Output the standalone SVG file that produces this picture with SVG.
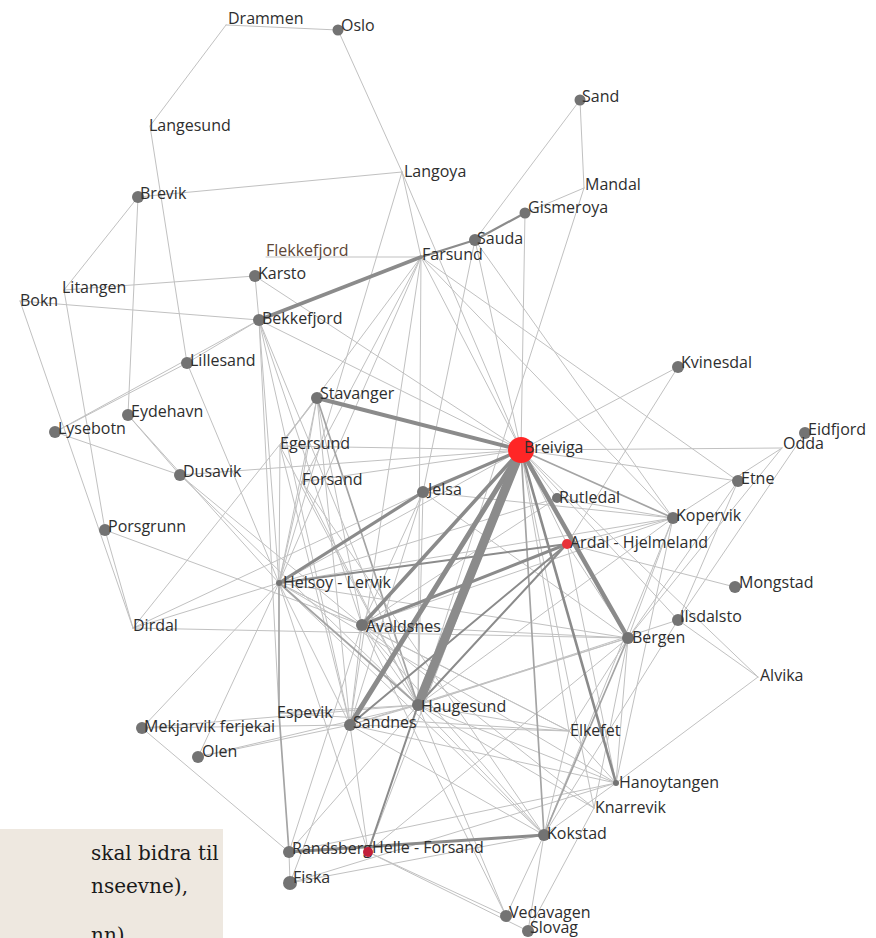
<svg xmlns="http://www.w3.org/2000/svg" width="876" height="938" viewBox="0 0 876 938">
<style>
.e line{stroke:#c1c1c1;stroke-width:1;stroke-linecap:round}
.e line.m{stroke:#a4a4a4;stroke-width:1.7}
.e line.k{stroke:#8b8b8b}
.n{fill:#737373}
.lb{font-family:"Open Sans","DejaVu Sans",sans-serif;font-size:16px;fill:#2e2e2e}
.box{fill:#eee8e0}
.bt{font-family:"DejaVu Serif","Liberation Serif",serif;font-size:20px;fill:#1a1a1a}
</style>
<rect width="876" height="938" fill="#ffffff"/>
<g id="connectors" class="e">
<line x1="226" y1="25" x2="338" y2="30"/>
<line x1="226" y1="25" x2="150" y2="126"/>
<line x1="338" y1="30" x2="402" y2="172"/>
<line x1="150" y1="126" x2="187" y2="363"/>
<line x1="402" y1="172" x2="138" y2="197"/>
<line x1="138" y1="197" x2="64" y2="290"/>
<line x1="138" y1="197" x2="128" y2="415"/>
<line x1="402" y1="172" x2="421" y2="257"/>
<line x1="402" y1="172" x2="279" y2="583"/>
<line x1="402" y1="172" x2="521" y2="450"/>
<line x1="266" y1="257" x2="421" y2="257"/>
<line x1="255" y1="276" x2="64" y2="290"/>
<line x1="255" y1="276" x2="259" y2="320"/>
<line x1="255" y1="276" x2="521" y2="450"/>
<line x1="20" y1="301" x2="259" y2="320"/>
<line x1="20" y1="301" x2="133" y2="628"/>
<line x1="64" y1="290" x2="105" y2="530"/>
<line x1="259" y1="320" x2="521" y2="450"/>
<line x1="259" y1="320" x2="187" y2="363"/>
<line x1="259" y1="320" x2="55" y2="432"/>
<line x1="259" y1="320" x2="279" y2="583"/>
<line x1="259" y1="320" x2="362" y2="625"/>
<line x1="259" y1="320" x2="418" y2="705"/>
<line x1="259" y1="320" x2="350" y2="725"/>
<line x1="259" y1="320" x2="279" y2="713"/>
<line x1="580" y1="100" x2="475" y2="240"/>
<line x1="580" y1="100" x2="584" y2="188"/>
<line x1="584" y1="188" x2="525" y2="213"/>
<line x1="584" y1="188" x2="418" y2="705"/>
<line x1="525" y1="213" x2="521" y2="450"/>
<line x1="475" y1="240" x2="423" y2="492"/>
<line x1="475" y1="240" x2="521" y2="450"/>
<line x1="475" y1="240" x2="673" y2="518"/>
<line x1="421" y1="257" x2="521" y2="450"/>
<line x1="421" y1="257" x2="280" y2="446"/>
<line x1="421" y1="257" x2="302" y2="482"/>
<line x1="421" y1="257" x2="279" y2="583"/>
<line x1="421" y1="257" x2="350" y2="725"/>
<line x1="421" y1="257" x2="418" y2="705"/>
<line x1="421" y1="257" x2="673" y2="518"/>
<line x1="421" y1="257" x2="738" y2="481"/>
<line x1="187" y1="363" x2="55" y2="432"/>
<line x1="187" y1="363" x2="279" y2="583"/>
<line x1="55" y1="432" x2="180" y2="475"/>
<line x1="128" y1="415" x2="180" y2="475"/>
<line x1="128" y1="415" x2="279" y2="583"/>
<line x1="180" y1="475" x2="521" y2="450"/>
<line x1="180" y1="475" x2="362" y2="625"/>
<line x1="180" y1="475" x2="418" y2="705"/>
<line x1="105" y1="530" x2="362" y2="625"/>
<line x1="105" y1="530" x2="133" y2="628"/>
<line x1="317" y1="398" x2="280" y2="446"/>
<line x1="317" y1="398" x2="302" y2="482"/>
<line x1="317" y1="398" x2="279" y2="583"/>
<line x1="317" y1="398" x2="133" y2="628"/>
<line x1="317" y1="398" x2="362" y2="625"/>
<line x1="317" y1="398" x2="350" y2="725"/>
<line class="m" x1="317" y1="398" x2="418" y2="705"/>
<line x1="280" y1="446" x2="279" y2="583"/>
<line x1="280" y1="446" x2="521" y2="450"/>
<line x1="280" y1="446" x2="418" y2="705"/>
<line x1="280" y1="446" x2="350" y2="725"/>
<line x1="302" y1="482" x2="521" y2="450"/>
<line x1="302" y1="482" x2="418" y2="705"/>
<line x1="302" y1="482" x2="544" y2="835"/>
<line x1="302" y1="482" x2="279" y2="583"/>
<line x1="423" y1="492" x2="418" y2="705"/>
<line x1="423" y1="492" x2="350" y2="725"/>
<line x1="423" y1="492" x2="362" y2="625"/>
<line x1="423" y1="492" x2="673" y2="518"/>
<line x1="423" y1="492" x2="133" y2="628"/>
<line x1="423" y1="492" x2="628" y2="638"/>
<line x1="678" y1="367" x2="521" y2="450"/>
<line x1="678" y1="367" x2="567" y2="544"/>
<line x1="782" y1="448" x2="521" y2="450"/>
<line x1="782" y1="448" x2="673" y2="518"/>
<line x1="782" y1="448" x2="628" y2="638"/>
<line x1="805" y1="433" x2="678" y2="620"/>
<line x1="738" y1="481" x2="521" y2="450"/>
<line x1="738" y1="481" x2="628" y2="638"/>
<line x1="738" y1="481" x2="678" y2="620"/>
<line x1="557" y1="498" x2="521" y2="450"/>
<line x1="557" y1="498" x2="673" y2="518"/>
<line x1="557" y1="498" x2="362" y2="625"/>
<line x1="557" y1="498" x2="279" y2="583"/>
<line class="m" x1="673" y1="518" x2="521" y2="450"/>
<line x1="673" y1="518" x2="567" y2="544"/>
<line x1="673" y1="518" x2="279" y2="583"/>
<line x1="673" y1="518" x2="362" y2="625"/>
<line x1="673" y1="518" x2="628" y2="638"/>
<line x1="673" y1="518" x2="544" y2="835"/>
<line x1="673" y1="518" x2="616" y2="783"/>
<line x1="673" y1="518" x2="418" y2="705"/>
<line x1="567" y1="544" x2="735" y2="587"/>
<line x1="567" y1="544" x2="628" y2="638"/>
<line x1="567" y1="544" x2="616" y2="783"/>
<line x1="521" y1="450" x2="758" y2="677"/>
<line x1="678" y1="620" x2="758" y2="677"/>
<line x1="678" y1="620" x2="544" y2="835"/>
<line x1="678" y1="620" x2="418" y2="705"/>
<line x1="678" y1="620" x2="521" y2="450"/>
<line x1="758" y1="677" x2="616" y2="783"/>
<line x1="628" y1="638" x2="418" y2="705"/>
<line x1="628" y1="638" x2="362" y2="625"/>
<line x1="628" y1="638" x2="279" y2="583"/>
<line x1="628" y1="638" x2="350" y2="725"/>
<line x1="628" y1="638" x2="569" y2="731"/>
<line x1="628" y1="638" x2="594" y2="808"/>
<line x1="628" y1="638" x2="133" y2="628"/>
<line x1="628" y1="638" x2="368" y2="852"/>
<line x1="628" y1="638" x2="616" y2="783"/>
<line x1="521" y1="450" x2="567" y2="544"/>
<line x1="521" y1="450" x2="569" y2="731"/>
<line x1="521" y1="450" x2="594" y2="808"/>
<line x1="521" y1="450" x2="368" y2="852"/>
<line x1="521" y1="450" x2="279" y2="583"/>
<line x1="362" y1="625" x2="279" y2="583"/>
<line x1="362" y1="625" x2="418" y2="705"/>
<line x1="362" y1="625" x2="544" y2="835"/>
<line x1="362" y1="625" x2="569" y2="731"/>
<line x1="362" y1="625" x2="594" y2="808"/>
<line x1="362" y1="625" x2="289" y2="852"/>
<line x1="362" y1="625" x2="350" y2="725"/>
<line x1="362" y1="625" x2="506" y2="916"/>
<line x1="279" y1="583" x2="544" y2="835"/>
<line x1="279" y1="583" x2="569" y2="731"/>
<line x1="279" y1="583" x2="616" y2="783"/>
<line x1="279" y1="583" x2="368" y2="852"/>
<line x1="279" y1="583" x2="142" y2="728"/>
<line x1="279" y1="583" x2="198" y2="757"/>
<line x1="279" y1="583" x2="133" y2="628"/>
<line x1="279" y1="583" x2="350" y2="725"/>
<line x1="279" y1="713" x2="418" y2="705"/>
<line x1="279" y1="713" x2="569" y2="731"/>
<line x1="418" y1="705" x2="350" y2="725"/>
<line x1="418" y1="705" x2="544" y2="835"/>
<line x1="418" y1="705" x2="569" y2="731"/>
<line x1="418" y1="705" x2="616" y2="783"/>
<line x1="418" y1="705" x2="594" y2="808"/>
<line x1="418" y1="705" x2="506" y2="916"/>
<line x1="418" y1="705" x2="289" y2="852"/>
<line x1="418" y1="705" x2="198" y2="757"/>
<line x1="418" y1="705" x2="142" y2="728"/>
<line x1="350" y1="725" x2="368" y2="852"/>
<line x1="350" y1="725" x2="544" y2="835"/>
<line x1="350" y1="725" x2="142" y2="728"/>
<line x1="350" y1="725" x2="198" y2="757"/>
<line x1="350" y1="725" x2="616" y2="783"/>
<line x1="350" y1="725" x2="569" y2="731"/>
<line x1="350" y1="725" x2="290" y2="883"/>
<line x1="142" y1="728" x2="289" y2="852"/>
<line x1="289" y1="852" x2="290" y2="883"/>
<line x1="289" y1="852" x2="616" y2="783"/>
<line x1="290" y1="883" x2="544" y2="835"/>
<line x1="290" y1="883" x2="616" y2="783"/>
<line x1="368" y1="852" x2="506" y2="916"/>
<line x1="368" y1="852" x2="528" y2="931"/>
<line x1="544" y1="835" x2="506" y2="916"/>
<line x1="544" y1="835" x2="528" y2="931"/>
<line x1="544" y1="835" x2="569" y2="731"/>
<line x1="544" y1="835" x2="616" y2="783"/>
<line x1="594" y1="808" x2="528" y2="931"/>
<line x1="569" y1="731" x2="616" y2="783"/>
<line class="m" x1="279" y1="583" x2="279" y2="713"/>
<line class="m" x1="279" y1="713" x2="289" y2="852"/>
<line class="m" x1="521" y1="450" x2="544" y2="835"/>
<line class="m" x1="628" y1="638" x2="544" y2="835"/>
<line class="m" x1="279" y1="583" x2="418" y2="705"/>
<line class="k" style="stroke-width:2" x1="418" y1="705" x2="368" y2="852"/>
<line class="k" style="stroke-width:2" x1="567" y1="544" x2="418" y2="705"/>
<line class="k" style="stroke-width:2" x1="567" y1="544" x2="350" y2="725"/>
<line class="k" style="stroke-width:2" x1="279" y1="583" x2="567" y2="544"/>
<line class="k" style="stroke-width:2.2" x1="475" y1="240" x2="421" y2="257"/>
<line class="k" style="stroke-width:2.2" x1="475" y1="240" x2="525" y2="213"/>
<line class="k" style="stroke-width:2.6" x1="521" y1="450" x2="616" y2="783"/>
<line class="k" style="stroke-width:3" x1="289" y1="852" x2="544" y2="835"/>
<line class="k" style="stroke-width:3" x1="362" y1="625" x2="567" y2="544"/>
<line class="k" style="stroke-width:3.2" x1="423" y1="492" x2="279" y2="583"/>
<line class="k" style="stroke-width:3.2" x1="521" y1="450" x2="423" y2="492"/>
<line class="k" style="stroke-width:3.6" x1="421" y1="257" x2="259" y2="320"/>
<line class="k" style="stroke-width:3.6" x1="521" y1="450" x2="362" y2="625"/>
<line class="k" style="stroke-width:4" x1="521" y1="450" x2="317" y2="398"/>
<line class="k" style="stroke-width:4.5" x1="521" y1="450" x2="628" y2="638"/>
<line class="k" style="stroke-width:5" x1="521" y1="450" x2="350" y2="725"/>
<line class="k" style="stroke-width:9" x1="521" y1="450" x2="418" y2="705"/>
</g>
<g id="n-drammen"><text class="lb" x="228" y="24">Drammen</text></g>
<g id="n-oslo"><circle class="n" cx="338" cy="30" r="5.5"/><text class="lb" x="341" y="31">Oslo</text></g>
<g id="n-langesund"><text class="lb" x="149" y="131">Langesund</text></g>
<g id="n-langoya"><text class="lb" x="404" y="177">Langoya</text></g>
<g id="n-brevik"><circle class="n" cx="138" cy="197" r="6"/><text class="lb" x="140" y="199">Brevik</text></g>
<g id="n-sand"><circle class="n" cx="580" cy="100" r="5.5"/><text class="lb" x="582" y="102">Sand</text></g>
<g id="n-mandal"><text class="lb" x="585" y="190">Mandal</text></g>
<g id="n-gismeroya"><circle class="n" cx="525" cy="213" r="5.5"/><text class="lb" x="528" y="213">Gismeroya</text></g>
<g id="n-sauda"><circle class="n" cx="475" cy="240" r="6"/><text class="lb" x="477" y="244">Sauda</text></g>
<g id="n-farsund"><text class="lb" x="422" y="260">Farsund</text></g>
<g id="n-flekkefjord"><text class="lb" x="266" y="256" style="fill:#5e4636">Flekkefjord</text></g>
<g id="n-karsto"><circle class="n" cx="255" cy="276" r="6"/><text class="lb" x="258" y="279">Karsto</text></g>
<g id="n-litangen"><text class="lb" x="62" y="293">Litangen</text></g>
<g id="n-bokn"><text class="lb" x="20" y="306">Bokn</text></g>
<g id="n-bekkefjord"><circle class="n" cx="259" cy="320" r="6"/><text class="lb" x="262" y="324">Bekkefjord</text></g>
<g id="n-lillesand"><circle class="n" cx="187" cy="363" r="6"/><text class="lb" x="190" y="366">Lillesand</text></g>
<g id="n-stavanger"><circle class="n" cx="317" cy="398" r="6"/><text class="lb" x="320" y="399">Stavanger</text></g>
<g id="n-kvinesdal"><circle class="n" cx="678" cy="367" r="6"/><text class="lb" x="681" y="368">Kvinesdal</text></g>
<g id="n-eydehavn"><circle class="n" cx="128" cy="415" r="6"/><text class="lb" x="131" y="417">Eydehavn</text></g>
<g id="n-lysebotn"><circle class="n" cx="55" cy="432" r="6"/><text class="lb" x="58" y="434">Lysebotn</text></g>
<g id="n-egersund"><text class="lb" x="280" y="449">Egersund</text></g>
<g id="n-breiviga"><circle cx="521" cy="450" r="13" fill="#ff2626"/><text class="lb" x="524" y="453">Breiviga</text></g>
<g id="n-eidfjord"><circle class="n" cx="805" cy="433" r="6"/><text class="lb" x="808" y="435">Eidfjord</text></g>
<g id="n-odda"><text class="lb" x="783" y="449">Odda</text></g>
<g id="n-dusavik"><circle class="n" cx="180" cy="475" r="6"/><text class="lb" x="183" y="477">Dusavik</text></g>
<g id="n-forsand"><text class="lb" x="302" y="485">Forsand</text></g>
<g id="n-jelsa"><circle class="n" cx="423" cy="492" r="6"/><text class="lb" x="428" y="495">Jelsa</text></g>
<g id="n-etne"><circle class="n" cx="738" cy="481" r="6"/><text class="lb" x="741" y="484">Etne</text></g>
<g id="n-rutledal"><circle class="n" cx="557" cy="498" r="5"/><text class="lb" x="559" y="503">Rutledal</text></g>
<g id="n-kopervik"><circle class="n" cx="673" cy="518" r="6"/><text class="lb" x="676" y="521">Kopervik</text></g>
<g id="n-porsgrunn"><circle class="n" cx="105" cy="530" r="6"/><text class="lb" x="108" y="532">Porsgrunn</text></g>
<g id="n-ardal"><circle cx="567" cy="544" r="5" fill="#e8323a"/><text class="lb" x="570" y="548">Ardal - Hjelmeland</text></g>
<g id="n-helsoy"><circle class="n" cx="279" cy="583" r="3"/><text class="lb" x="283" y="588">Helsoy - Lervik</text></g>
<g id="n-mongstad"><circle class="n" cx="735" cy="587" r="6"/><text class="lb" x="739" y="588">Mongstad</text></g>
<g id="n-dirdal"><text class="lb" x="133" y="631">Dirdal</text></g>
<g id="n-avaldsnes"><circle class="n" cx="362" cy="625" r="6"/><text class="lb" x="366" y="632">Avaldsnes</text></g>
<g id="n-ilsdalsto"><circle class="n" cx="678" cy="620" r="6"/><text class="lb" x="680" y="622">Ilsdalsto</text></g>
<g id="n-bergen"><circle class="n" cx="628" cy="638" r="6"/><text class="lb" x="632" y="643">Bergen</text></g>
<g id="n-alvika"><text class="lb" x="760" y="681">Alvika</text></g>
<g id="n-espevik"><text class="lb" x="277" y="718">Espevik</text></g>
<g id="n-haugesund"><circle class="n" cx="418" cy="705" r="6"/><text class="lb" x="421" y="712">Haugesund</text></g>
<g id="n-sandnes"><circle class="n" cx="350" cy="725" r="6"/><text class="lb" x="353" y="728">Sandnes</text></g>
<g id="n-mekjarvik"><circle class="n" cx="142" cy="728" r="6"/><text class="lb" x="144" y="732">Mekjarvik ferjekai</text></g>
<g id="n-olen"><circle class="n" cx="198" cy="757" r="6"/><text class="lb" x="202" y="757">Olen</text></g>
<g id="n-elkefet"><text class="lb" x="570" y="736">Elkefet</text></g>
<g id="n-hanoytangen"><circle class="n" cx="616" cy="783" r="3"/><text class="lb" x="619" y="788">Hanoytangen</text></g>
<g id="n-knarrevik"><text class="lb" x="595" y="813">Knarrevik</text></g>
<g id="n-kokstad"><circle class="n" cx="544" cy="835" r="6"/><text class="lb" x="547" y="839">Kokstad</text></g>
<g id="n-randsberg"><circle class="n" cx="289" cy="852" r="6"/><text class="lb" x="292" y="854">Randsberg</text></g>
<g id="n-helle"><circle cx="368" cy="852" r="5" fill="#c21f3a"/><text class="lb" x="372" y="853">Helle - Forsand</text></g>
<g id="n-fiska"><circle class="n" cx="290" cy="883" r="7"/><text class="lb" x="293" y="883">Fiska</text></g>
<g id="n-vedavagen"><circle class="n" cx="506" cy="916" r="6"/><text class="lb" x="509" y="918">Vedavagen</text></g>
<g id="n-slovag"><circle class="n" cx="528" cy="931" r="6"/><text class="lb" x="530" y="933">Slovag</text></g>
<g id="textbox">
<rect class="box" x="0" y="829" width="223" height="109"/>
<text class="bt" x="91" y="860">skal bidra til</text>
<text class="bt" x="91" y="893">nseevne),</text>
<text class="bt" x="91" y="942">nn)</text>
</g>
</svg>
